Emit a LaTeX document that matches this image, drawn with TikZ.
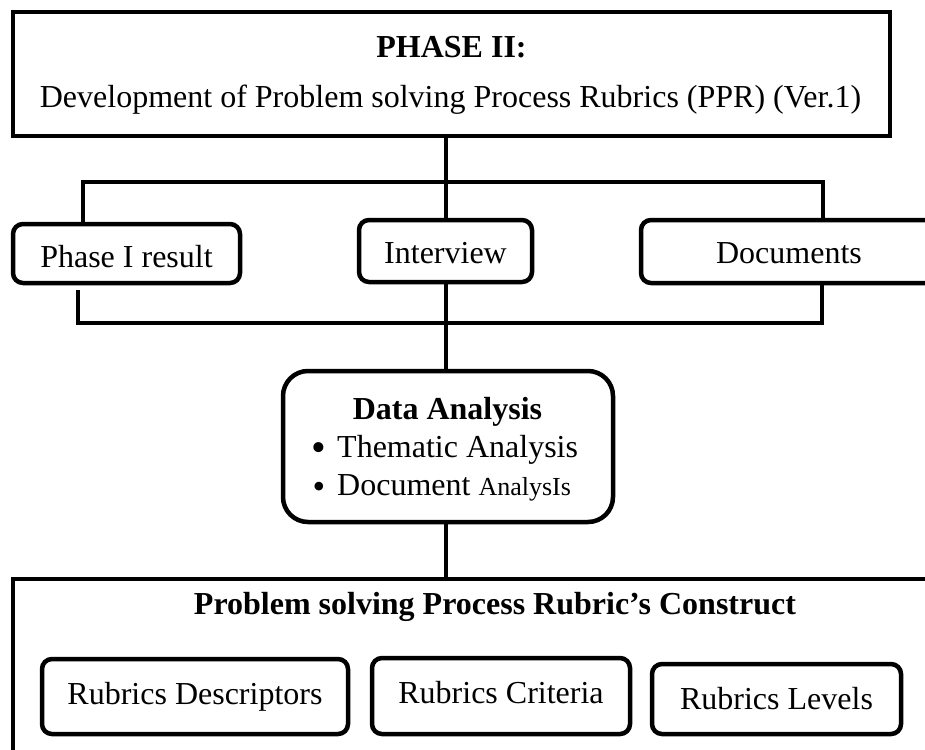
\documentclass[tikz,border=0pt]{standalone}
\usepackage{fontspec}
\setmainfont{Liberation Serif}
\begin{document}
\begin{tikzpicture}[x=1pt,y=-1pt,
  every node/.style={font=\fontsize{32}{38}\selectfont, inner sep=0pt},
  frame/.style={draw, rectangle, line width=4pt},
  rbox/.style={draw, rectangle, rounded corners=10pt, line width=4.5pt},
  dot/.style={font=\fontsize{42}{42}\selectfont, anchor=base},
  link/.style={line width=4pt}]
\clip (0,0) rectangle (925,749);
\fill[white] (0,0) rectangle (925,749);

% phase heading
\node[frame, minimum width=877pt, minimum height=124pt] (phase) at (451.5,74) {};
\node[anchor=base] (phasetitle) at (451.5,58) {\bfseries PHASE II:};
\node[anchor=base] (phasesub) at (450.5,107) {Development of Problem solving Process Rubrics (PPR) (Ver.1)};

% data sources
\node[rbox, minimum width=227pt, minimum height=59pt, text height=27pt, text depth=0pt] (res) at (126.5,253.5) {Phase I result};
\node[rbox, minimum width=173pt, minimum height=62pt, text height=24pt, text depth=0pt] (iv) at (445.5,251) {Interview};
\node[rbox, minimum width=296pt, minimum height=63pt, text height=23pt, text depth=0pt] (docs) at (789,251.5) {Documents};

% analysis
\node[rbox, rounded corners=25pt, minimum width=330pt, minimum height=151pt] (data) at (448,446.5) {};
\node[anchor=base] (datatitle) at (447.5,419) {\bfseries Data Analysis};
\node[dot] (bulleta) at (319,461) {\textbullet};
\node[anchor=base west] (itema) at (337,457) {Thematic Analysis};
\node[dot, font=\fontsize{36}{36}\selectfont] (bulletb) at (319,498) {\textbullet};
\node[anchor=base west] (itemb) at (337,495) {Document {\fontsize{26}{30}\selectfont AnalysIs}};

% construct
\node[frame, minimum width=964pt, minimum height=241pt] (cons) at (495,699.5) {};
\node[anchor=base] (constitle) at (495,614) {\bfseries Problem solving Process Rubric’s Construct};
\node[rbox, minimum width=306pt, minimum height=75pt, text height=22pt, text depth=7pt] (desc) at (195,696.5) {Rubrics Descriptors};
\node[rbox, minimum width=258pt, minimum height=76pt, text height=22pt, text depth=8pt] (crit) at (501,696) {Rubrics Criteria};
\node[rbox, minimum width=249pt, minimum height=70pt, text height=22pt, text depth=2pt] (lev) at (776.5,699) {Rubrics Levels};

% connectors
\coordinate (ubl) at (83,182);
\coordinate (ubr) at (823,182);
\coordinate (lbs) at (78,290);
\coordinate (lbl) at (78,323);
\coordinate (lbr) at (822,323);
\draw[link] (phase.south -| iv.north) -- (iv.north);
\draw[link] (res.north -| ubl) -- (ubl) -- (ubr) -- (docs.north -| ubr);
\draw[link] (lbs) -- (lbl) -- (lbr) -- (docs.south -| lbr);
\draw[link] (iv.south) -- (iv.south |- data.north);
\draw[link] (iv.south |- data.south) -- (iv.south |- cons.north);
\end{tikzpicture}
\end{document}
